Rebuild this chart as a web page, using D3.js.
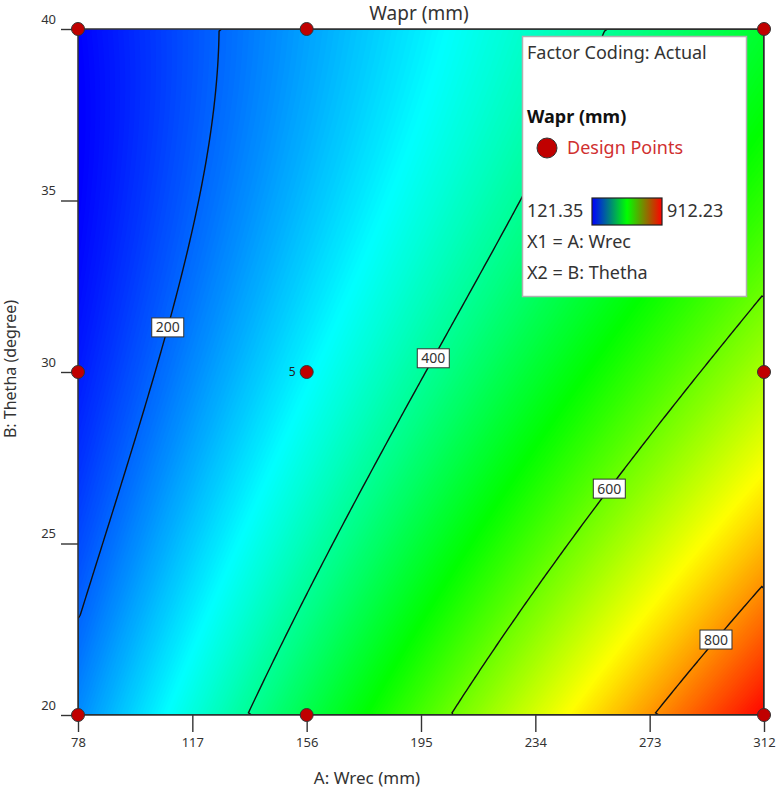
<!DOCTYPE html>
<html><head><meta charset="utf-8">
<script src="https://cdn.jsdelivr.net/npm/d3@7"></script>
<style>
body{margin:0;background:#fff;}
svg{display:block;font-family:"Noto Sans","Open Sans",sans-serif;}
</style></head><body>
<svg id="chart" width="777" height="790"></svg>
<script>
const xTicks = [78,117,156,195,234,273,312];
const yTicks = [20,25,30,35,40];
const contourLevels = [200,400,600,800];
const labelTheta = [31.3,30.4,26.6,22.2];
const designWrec = [78,78,78,156,156,156,312,312,312];
const designTheta = [20,30,40,20,30,40,20,30,40];
const responseMin = 121.35, responseMax = 912.23;

// Wapr response surface in coded units A=(Wrec-195)/117, B=(Thetha-30)/10
// terms: 1, A, B, AB, A^2, B^2, A^2B, AB^2, A^3, B^3
const modelCoef = [396.61, 249.06, -136.81, -80.09, -2.59, 41.81, -1.52, 7.01, 4.29, 4.28];

const terms = (a,b) => [1,a,b,a*b,a*a,b*b,a*a*b,a*b*b,a*a*a,b*b*b];
const model = (wrec, theta) => {
	const t = terms((wrec-195)/117, (theta-30)/10);
	return modelCoef.reduce((s,c,i) => s + c*t[i], 0);
};

const margin = {left:78, top:29, size:686};
const x = d3.scaleLinear().domain([78,312]).range([margin.left, margin.left+margin.size]);
const y = d3.scaleLinear().domain([20,40]).range([margin.top+margin.size, margin.top]);
const color = d3.scaleLinear()
	.domain(d3.range(5).map(i => responseMin + i*(responseMax-responseMin)/4))
	.range(["#0000ff","#00ffff","#00ff00","#ffff00","#ff0000"])
	.clamp(true);

const svg = d3.select('#chart');
svg.append('clipPath').attr('id','plotclip').append('rect')
	.attr('x',margin.left).attr('y',margin.top).attr('width',margin.size).attr('height',margin.size);

// sample the surface on a grid and draw it as many thin filled bands
const N = 160, cell = margin.size/N;
const grid = new Array(N*N);
for(let j=0;j<N;j++) for(let i=0;i<N;i++)
	grid[j*N+i] = model(x.invert(margin.left+(i+.5)*cell), y.invert(margin.top+(j+.5)*cell));
const path = d3.geoPath(d3.geoTransform({point(px,py){ this.stream.point(margin.left+px*cell, margin.top+py*cell); }}));

const plot = svg.append('g').attr('clip-path','url(#plotclip)');
plot.append('rect').attr('x',margin.left).attr('y',margin.top).attr('width',margin.size).attr('height',margin.size)
	.attr('fill', color(d3.min(grid)));
const step = 3;
plot.selectAll('path.band')
	.data(d3.contours().size([N,N]).thresholds(d3.range(90,960,step))(grid))
	.join('path').attr('class','band')
	.attr('d',path).attr('fill',d => color(d.value+step/2));
plot.selectAll('path.iso')
	.data(d3.contours().size([N,N]).thresholds(contourLevels)(grid))
	.join('path').attr('class','iso')
	.attr('d',path).attr('fill','none').attr('stroke','#111').attr('stroke-width',1.4);

svg.append('rect').attr('x',margin.left).attr('y',margin.top).attr('width',margin.size).attr('height',margin.size)
	.attr('fill','none').attr('stroke','#333').attr('stroke-width',1.5);

// contour labels sit on the line at a given Thetha
const solveX = (level, th) => {
	let lo=78, hi=312;
	for(let k=0;k<50;k++){ const m=(lo+hi)/2; if(model(m,th) < level) lo=m; else hi=m; }
	return (lo+hi)/2;
};
const lab = svg.append('g').selectAll('g').data(contourLevels).join('g')
	.attr('transform',(d,i) => `translate(${x(solveX(d,labelTheta[i]))},${y(labelTheta[i])})`);
lab.append('rect').attr('x',-16).attr('y',-9.5).attr('width',32).attr('height',19)
	.attr('fill','#fff').attr('stroke','#333').attr('stroke-width',1);
lab.append('text').attr('text-anchor','middle').attr('dy','0.36em').attr('font-size',14).attr('fill','#333').text(d => d);

// axes
const xAxis = svg.append('g').attr('transform',`translate(0,${margin.top+margin.size})`)
	.call(d3.axisBottom(x).tickValues(xTicks).tickSize(17).tickSizeOuter(0).tickPadding(6));
xAxis.select('.domain').remove();
xAxis.selectAll('line').attr('stroke','#333').attr('stroke-width',1.4);
xAxis.selectAll('text').attr('font-size',13).attr('fill','#333').attr('font-family','"Noto Sans",sans-serif');

const yAxis = svg.append('g').attr('transform',`translate(${margin.left},0)`)
	.call(d3.axisLeft(y).tickValues(yTicks).tickSize(17).tickSizeOuter(0).tickPadding(5));
yAxis.select('.domain').remove();
yAxis.selectAll('line').attr('stroke','#333').attr('stroke-width',1.4);
yAxis.selectAll('text').attr('font-size',13).attr('fill','#333').attr('dy','-0.45em').attr('font-family','"Noto Sans",sans-serif');

// design points
svg.append('g').selectAll('circle').data(designWrec).join('circle')
	.attr('cx',d => x(d)).attr('cy',(d,i) => y(designTheta[i])).attr('r',6.5)
	.attr('fill','#c00000').attr('stroke','#333').attr('stroke-width',1);
svg.append('text').attr('x',x(156)-11).attr('y',y(30)).attr('dy','0.35em').attr('text-anchor','end')
	.attr('font-size',12).attr('fill','#222').text('5');

// titles
svg.append('text').attr('x',419).attr('y',13).attr('dy','0.35em').attr('text-anchor','middle')
	.attr('font-size',19).attr('fill','#333').text('Wapr (mm)');
svg.append('text').attr('x',367).attr('y',778).attr('dy','0.35em').attr('text-anchor','middle')
	.attr('font-size',17).attr('fill','#333').text('A: Wrec (mm)');
svg.append('text').attr('transform','translate(10,369) rotate(-90)').attr('dy','0.35em').attr('text-anchor','middle')
	.attr('font-size',16).attr('fill','#333').text('B: Thetha (degree)');

// legend
const lg = svg.append('g');
lg.append('rect').attr('x',522.5).attr('y',36.5).attr('width',224).attr('height',260)
	.attr('fill','#fff').attr('stroke','#b0b0b0').attr('stroke-width',1.5);
const lt = (t,yy,opt={}) => lg.append('text').attr('x',opt.x||527).attr('y',yy).attr('dy','0.35em')
	.attr('font-size',18).attr('fill',opt.fill||'#333').attr('font-weight',opt.bold?'bold':null).text(t);
lt('Factor Coding: Actual',53);
lt('Wapr (mm)',117,{bold:true,fill:'#111'});
lg.append('circle').attr('cx',547).attr('cy',148).attr('r',10).attr('fill','#c00000').attr('stroke','#333');
lt('Design Points',148,{x:567,fill:'#d03030'});
lt(responseMin.toFixed(2),211);
const grad = svg.append('defs').append('linearGradient').attr('id','cbar');
grad.selectAll('stop').data(['#0000ff','#00ff00','#ff0000']).join('stop')
	.attr('offset',(d,i) => i*50+'%').attr('stop-color',d => d);
lg.append('rect').attr('x',592).attr('y',198).attr('width',70).attr('height',27)
	.attr('fill','url(#cbar)').attr('stroke','#222').attr('stroke-width',1.2);
lt(responseMax.toFixed(2),211,{x:667});
lt('X1 = A: Wrec',242);
lt('X2 = B: Thetha',273);
</script>
</body></html>
